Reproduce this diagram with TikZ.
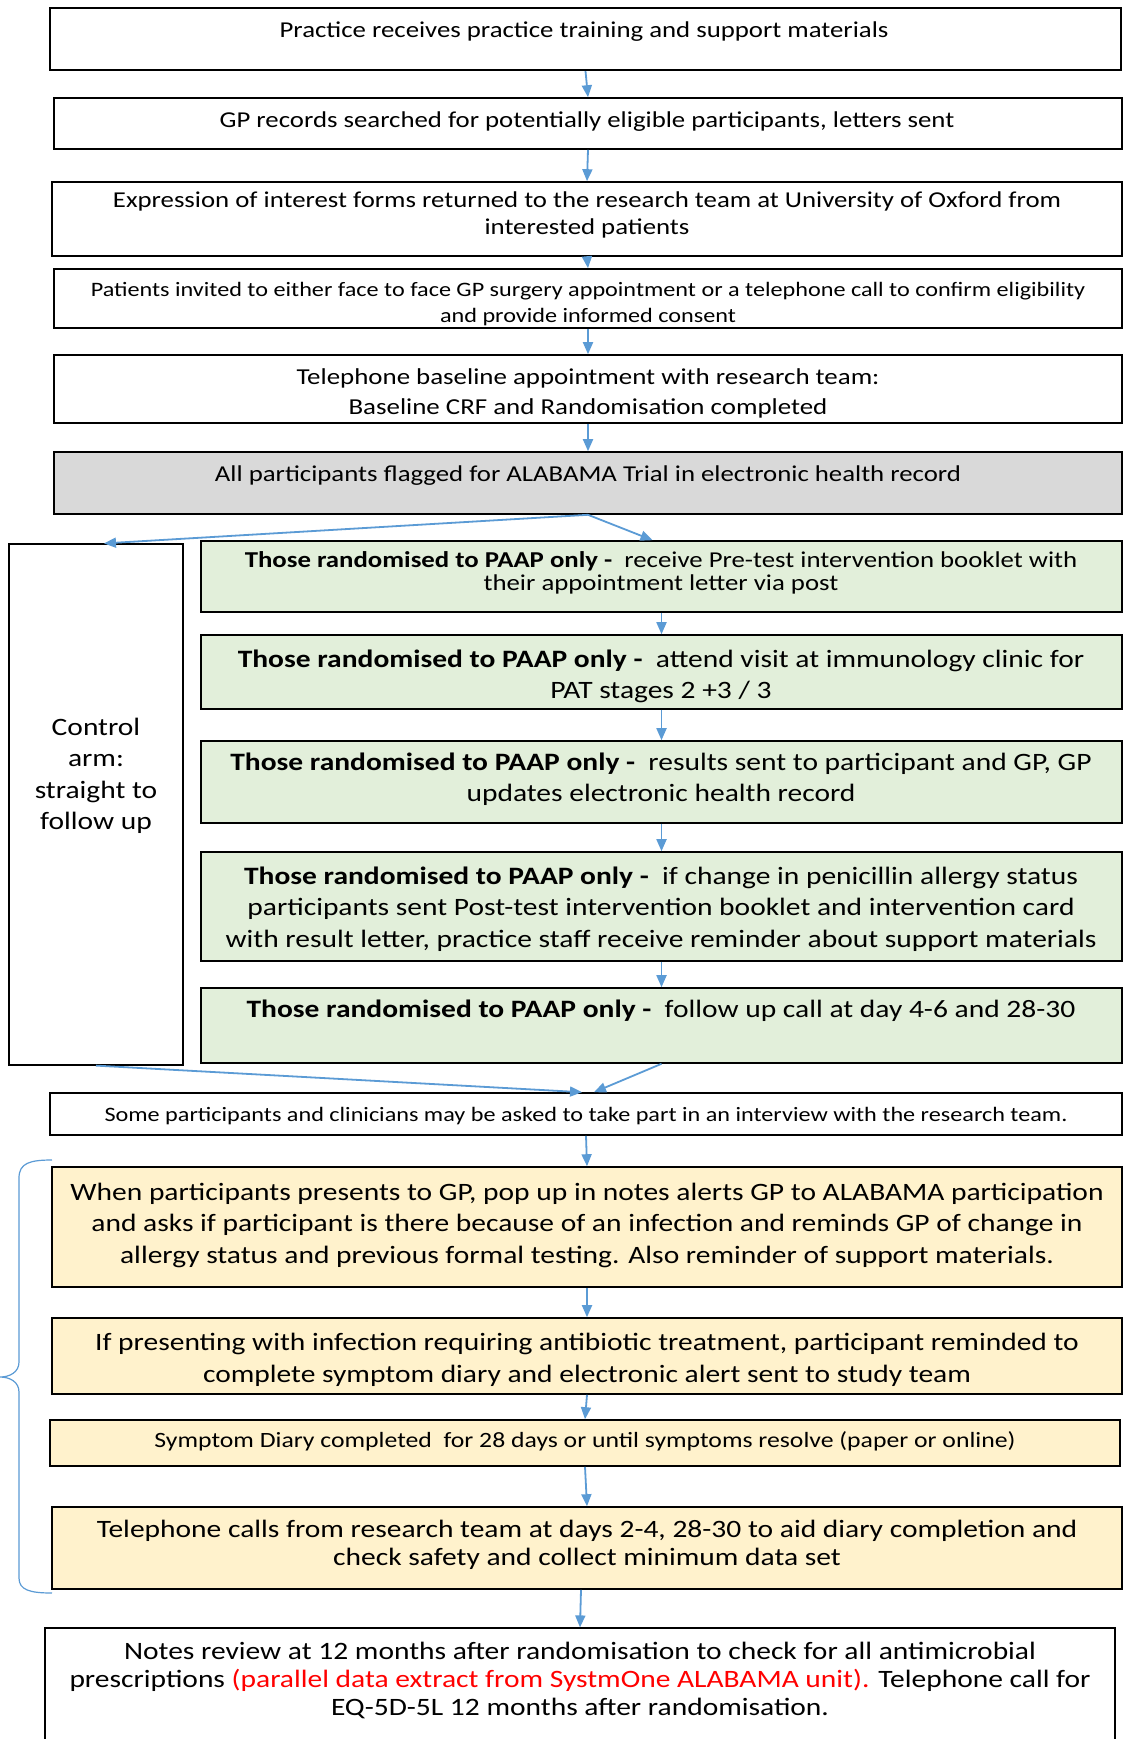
\documentclass[tikz,border=0pt]{standalone}
\usepackage{fontspec}
\setmainfont[FakeStretch=1.18]{Carlito}
\usetikzlibrary{arrows.meta}
\definecolor{arr}{HTML}{5B9BD5}
\definecolor{gfill}{HTML}{E2EFDA}
\definecolor{yfill}{HTML}{FFF2CC}
\definecolor{grfill}{HTML}{D9D9D9}
\definecolor{redtxt}{HTML}{FF0000}
\begin{document}
\begin{tikzpicture}[x=1pt,y=-1pt,
  box/.style={draw=black, line width=1.6pt, inner sep=0pt, fill=white},
  gbox/.style={box, fill=gfill},
  ybox/.style={box, fill=yfill},
  txt/.style={align=center, inner sep=0pt},
  arrow/.style={draw=arr, line width=1.8pt, -{Triangle[length=12pt,width=10pt]}},
  brace/.style={draw=arr, line width=1.2pt}]
\useasboundingbox (0,0) rectangle (1124,1739);
\fill[white] (0,0) rectangle (1124,1739);

% boxes
\node[box, line width=2.2pt, minimum width=1071, minimum height=62] (b1) at (585.5,39) {};
\node[box, minimum width=1068, minimum height=51] (b2) at (588,123.5) {};
\node[box, minimum width=1070, minimum height=74] (b3) at (587,219) {};
\node[box, minimum width=1068, minimum height=59] (b4) at (588,298.5) {};
\node[box, minimum width=1068, minimum height=68] (b5) at (588,389) {};
\node[box, fill=grfill, minimum width=1068, minimum height=62] (b6) at (588,483) {};
\node[box, line width=1.2pt, minimum width=174, minimum height=521] (ctrl) at (96,804.5) {};
\node[gbox, minimum width=921, minimum height=71] (g1) at (661.5,576.5) {};
\node[gbox, minimum width=921, minimum height=74] (g2) at (661.5,672) {};
\node[gbox, minimum width=921, minimum height=82] (g3) at (661.5,782) {};
\node[gbox, minimum width=921, minimum height=109] (g4) at (661.5,906.5) {};
\node[gbox, minimum width=921, minimum height=75] (g5) at (661.5,1025.5) {};
\node[box, minimum width=1072, minimum height=42] (iv) at (586,1114) {};
\node[ybox, minimum width=1070, minimum height=120] (y1) at (587,1227) {};
\node[ybox, minimum width=1070, minimum height=76] (y2) at (587,1356) {};
\node[ybox, minimum width=1070, minimum height=46] (y3) at (585,1443) {};
\node[ybox, minimum width=1070, minimum height=82] (y4) at (587,1548) {};
\node[box, line width=1.2pt, minimum width=1070, minimum height=117] (fin) at (580,1686.5) {};

% texts
\node[txt, font=\fontsize{22.7}{27}\selectfont] (t1) at (584,32) {Practice receives practice training and support materials};
\node[txt, font=\fontsize{22.7}{27}\selectfont] (t2) at (587,122) {GP records searched for potentially eligible participants, letters sent};
\node[txt, font=\fontsize{22.7}{27}\selectfont] (t3) at (587,215) {Expression of interest forms returned to the research team at University of Oxford from\\interested patients};
\node[txt, font=\fontsize{20.5}{26}\selectfont] (t4) at (588,304) {Patients invited to either face to face GP surgery appointment or a telephone call to confirm eligibility\\and provide informed consent};
\node[txt, font=\fontsize{22.8}{30}\selectfont] (t5) at (588,393) {Telephone baseline appointment with research team:\\Baseline CRF and Randomisation completed};
\node[txt, font=\fontsize{22.7}{27}\selectfont] (t6) at (588,476) {All participants flagged for ALABAMA Trial in electronic health record};
\node[txt, font=\fontsize{25}{31.5}\selectfont] (tc) at (96,776) {Control\\arm:\\straight to\\follow up};
\node[txt, font=\fontsize{22.7}{23}\selectfont] (tg1) at (661,573) {\textbf{Those randomised to PAAP only -}\ \ receive Pre-test intervention booklet with\\their appointment letter via post};
\node[txt, font=\fontsize{25}{31}\selectfont] (tg2) at (661,676) {\textbf{Those randomised to PAAP only -}\ \ attend visit at immunology clinic for\\PAT stages 2 +3 / 3};
\node[txt, font=\fontsize{25}{31}\selectfont] (tg3) at (661,779) {\textbf{Those randomised to PAAP only -}\ \ results sent to participant and GP, GP\\updates electronic health record};
\node[txt, font=\fontsize{25}{31.5}\selectfont] (tg4) at (661,909) {\textbf{Those randomised to PAAP only -}\ \ if change in penicillin allergy status\\participants sent Post-test intervention booklet and intervention card\\with result letter, practice staff receive reminder about support materials};
\node[txt, font=\fontsize{25}{31}\selectfont] (tg5) at (661,1011) {\textbf{Those randomised to PAAP only -}\ \ follow up call at day 4-6 and 28-30};
\node[txt, font=\fontsize{20.5}{26}\selectfont] (tiv) at (586,1116) {Some participants and clinicians may be asked to take part in an interview with the research team.};
\node[txt, font=\fontsize{25}{31.5}\selectfont] (ty1) at (587,1225) {When participants presents to GP, pop up in notes alerts GP to ALABAMA participation\\and asks if participant is there because of an infection and reminds GP of change in\\allergy status and previous formal testing. Also reminder of support materials.};
\node[txt, font=\fontsize{25}{31.5}\selectfont] (ty2) at (587,1360) {If presenting with infection requiring antibiotic treatment, participant reminded to\\complete symptom diary and electronic alert sent to study team};
\node[txt, font=\fontsize{21.8}{27}\selectfont] (ty3) at (585,1441) {Symptom Diary completed\ \ for 28 days or until symptoms resolve (paper or online)};
\node[txt, font=\fontsize{25}{28}\selectfont] (ty4) at (587,1545) {Telephone calls from research team at days 2-4, 28-30 to aid diary completion and\\check safety and collect minimum data set};
\node[txt, font=\fontsize{25}{28}\selectfont] (tf) at (580,1680) {Notes review at 12 months after randomisation to check for all antimicrobial\\prescriptions \textcolor{redtxt}{(parallel data extract from SystmOne ALABAMA unit).} Telephone call for\\EQ-5D-5L 12 months after randomisation.};

% arrows
\draw[arrow] (b1.south) -- (b2.north);
\draw[arrow] (b2.south) -- (b3.north);
\draw[arrow] (b3.south) -- (b4.north);
\draw[arrow] (b4.south) -- (b5.north);
\draw[arrow] (b5.south) -- (b6.north);
\draw[arrow] (b6.south) -- ([xshift=8]ctrl.north);
\draw[arrow] (b6.south) -- ([xshift=-9]g1.north);
\draw[arrow] (g1.south) -- (g2.north);
\draw[arrow] (g2.south) -- (g3.north);
\draw[arrow] (g3.south) -- (g4.north);
\draw[arrow] (g4.south) -- (g5.north);
\draw[arrow] (ctrl.south) -- ([xshift=-4]iv.north);
\draw[arrow] (g5.south) -- ([xshift=8]iv.north);
\draw[arrow] (iv.south) -- (y1.north);
\draw[arrow] (y1.south) -- (y2.north);
\draw[arrow] (y2.south) -- (y3.north);
\draw[arrow] (y3.south) -- (y4.north);
\draw[arrow] ([xshift=-6]y4.south) -- (fin.north);

% brace
\draw[brace] (52,1160) .. controls (30,1160) and (19,1163) .. (19,1178)
  -- (19,1362) .. controls (19,1372) and (10,1377) .. (0,1377)
  .. controls (10,1377) and (19,1382) .. (19,1392)
  -- (19,1578) .. controls (19,1590) and (30,1593) .. (52,1593);
\end{tikzpicture}
\end{document}
